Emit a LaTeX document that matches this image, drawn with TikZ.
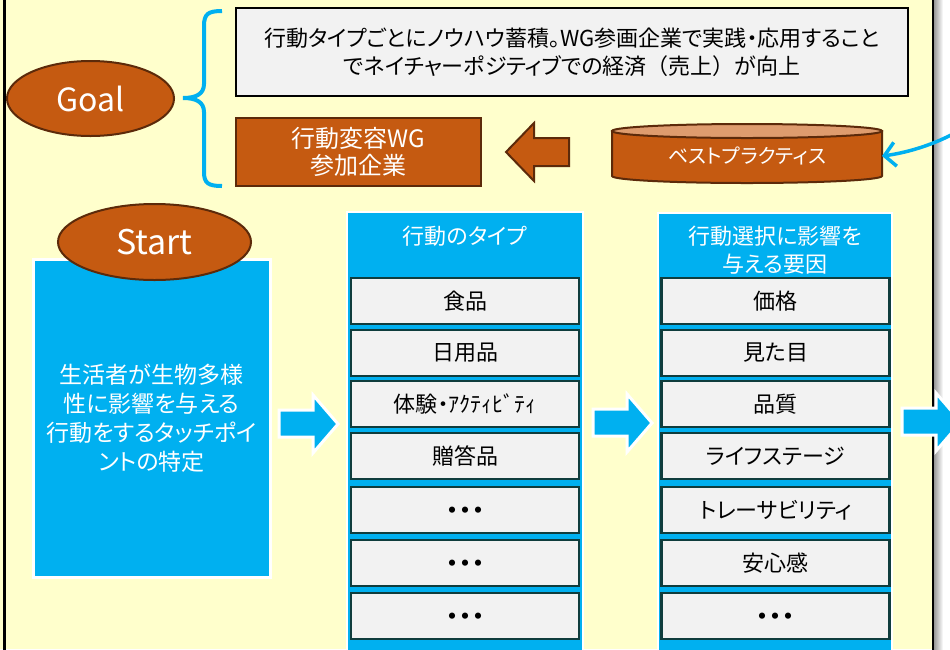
\documentclass[tikz,border=0pt]{standalone}
\usepackage{fontspec}
\setmainfont{Noto Sans CJK JP}[RawFeature=+palt]
\usetikzlibrary{arrows.meta,shapes.geometric}
\definecolor{bgyellow}{HTML}{FFFFCC}
\definecolor{rust}{HTML}{C55A11}
\definecolor{rustdark}{HTML}{5C2A0A}
\definecolor{rustlight}{HTML}{DE9C6E}
\definecolor{sky}{HTML}{00B0F0}
\definecolor{paper}{HTML}{F2F2F2}
\definecolor{itemedge}{HTML}{0F3D3D}
\newcommand{\nopalt}[1]{{\addfontfeature{RawFeature=-palt}#1}}
\newcommand{\tridots}{\raisebox{-8.4pt}[0pt][0pt]{\bfseries ・\hspace{2pt}・\hspace{2pt}・}}
\begin{document}
\begin{tikzpicture}[x=1pt,y=-1pt,
  every node/.style={inner sep=0pt, outer sep=0pt},
  brownshape/.style={fill=rust, draw=rustdark, line width=2pt},
  brownbox/.style={rectangle, brownshape, text=white, align=center},
  ovalnode/.style={ellipse, brownshape, text=white},
  itembox/.style={rectangle, fill=paper, draw=itemedge, line width=2.5pt, minimum width=228pt, minimum height=46pt, font=\fontsize{22}{26}\selectfont},
  column/.style={rectangle, fill=sky, draw=white, line width=2pt},
  headtext/.style={text=white, align=center, font=\fontsize{22}{28}\selectfont},
  blockarrow/.style={fill=sky, draw=white, line width=3pt, line join=miter},
  bluelink/.style={draw=sky, line width=3.5pt},
  rarrow/.pic={\path[blockarrow] (0,-14) -- (34,-14) -- (34,-29) -- (59,0) -- (34,29) -- (34,13) -- (0,13) -- cycle;}
]
\useasboundingbox (0,0) rectangle (950,649);
\clip (0,0) rectangle (950,649);
% background and frame
\fill[bgyellow] (0,0) rectangle (933,649);
\fill[white] (933,0) rectangle (950,649);
\shade[left color=black!40, right color=white] (934,0) rectangle (943,649);
\draw[line width=2.5pt] (4.5,-2) -- (4.5,651);
\draw[line width=2pt] (933,-2) -- (933,651);

% Goal
\node[ovalnode, minimum width=167pt, minimum height=75pt, font=\fontsize{32}{36}\selectfont] (goal) at (90.5,98.5) {Goal};
\draw[draw=sky, line width=4pt] (222,11) .. controls (208,11) and (204,14) .. (204,26) -- (204,84)
  .. controls (204,94) and (196,98) .. (183,98) .. controls (196,98) and (204,102) .. (204,112)
  -- (204,172) .. controls (204,183) and (208,186) .. (222,186);
\node[rectangle, fill=paper, draw=black, line width=2.5pt, minimum width=672pt, minimum height=88pt,
  align=center, font=\fontsize{22}{28}\selectfont] (goaltext) at (572,52)
  {行動タイプごとにノウハウ蓄積。WG参画企業で実践・応用すること\\でネイチャーポジティブでの経済\nopalt{（売上）}が向上};
\node[brownbox, minimum width=245pt, minimum height=68pt, font=\fontsize{24}{27}\selectfont] (wg) at (358.5,152)
  {行動変容WG\\参加企業};
\path[brownshape] (569,138) -- (534,138) -- (534,123) -- (506,152) -- (534,181) -- (534,166) -- (569,166) -- cycle;
% cylinder
\filldraw[fill=rust, draw=rustdark, line width=2pt] (612,131) -- (612,176)
  arc[start angle=180, end angle=0, x radius=135, y radius=7] -- (882,131) -- cycle;
\filldraw[fill=rustlight, draw=rustdark, line width=2pt] (747,131) ellipse [x radius=135, y radius=7];
\node[rectangle, minimum width=270pt, minimum height=52pt, text=white, font=\fontsize{20}{24}\selectfont] (bp) at (747,156) {ベストプラクティス};
\coordinate (bpsrc) at (953,134);
\draw[bluelink, -{Straight Barb[length=11pt,width=24pt]}] (bpsrc) .. controls (930,146) and (905,153) .. (bp.east);

% Start
\node[rectangle, fill=sky, draw=white, line width=3pt, minimum width=237pt, minimum height=318pt] (startbox) at (151.5,418) {};
\node[align=center, text=white, font=\fontsize{23}{29}\selectfont] (starttext) at (151.5,418)
  {生活者が生物多様\\性に影響を与える\\行動をするタッチポイ\\ントの特定};
\node[ovalnode, minimum width=193pt, minimum height=76pt, font=\fontsize{34}{38}\selectfont] (start) at (154.5,242) {Start};

% arrows between columns
\pic at (279,424) {rarrow};
\pic at (593,423) {rarrow};
\pic at (902,422) {rarrow};

% column 1
\node[column, minimum width=236pt, minimum height=460pt] (colA) at (465,442) {};
\node[headtext] (headA) at (465,236) {行動のタイプ};
\node[itembox] (a1) at (465,301) {食品};
\node[itembox] (a2) at (465,353) {日用品};
\node[itembox] (a3) at (465,404) {体験・ｱｸﾃｨﾋﾞﾃｨ};
\node[itembox] (a4) at (465,456) {贈答品};
\node[itembox] (a5) at (465,510) {\tridots};
\node[itembox] (a6) at (465,563) {\tridots};
\node[itembox] (a7) at (465,616) {\tridots};

% column 2
\node[column, minimum width=234pt, minimum height=460pt] (colB) at (775,443) {};
\node[headtext] (headB) at (775,250) {行動選択に影響を\\与える要因};
\node[itembox] (b1) at (775.5,301) {価格};
\node[itembox] (b2) at (775.5,353) {見た目};
\node[itembox] (b3) at (775.5,404) {品質};
\node[itembox] (b4) at (775.5,456) {ライフステージ};
\node[itembox] (b5) at (775.5,510) {トレーサビリティ};
\node[itembox] (b6) at (775.5,563) {安心感};
\node[itembox] (b7) at (775.5,616) {\tridots};
\end{tikzpicture}
\end{document}
